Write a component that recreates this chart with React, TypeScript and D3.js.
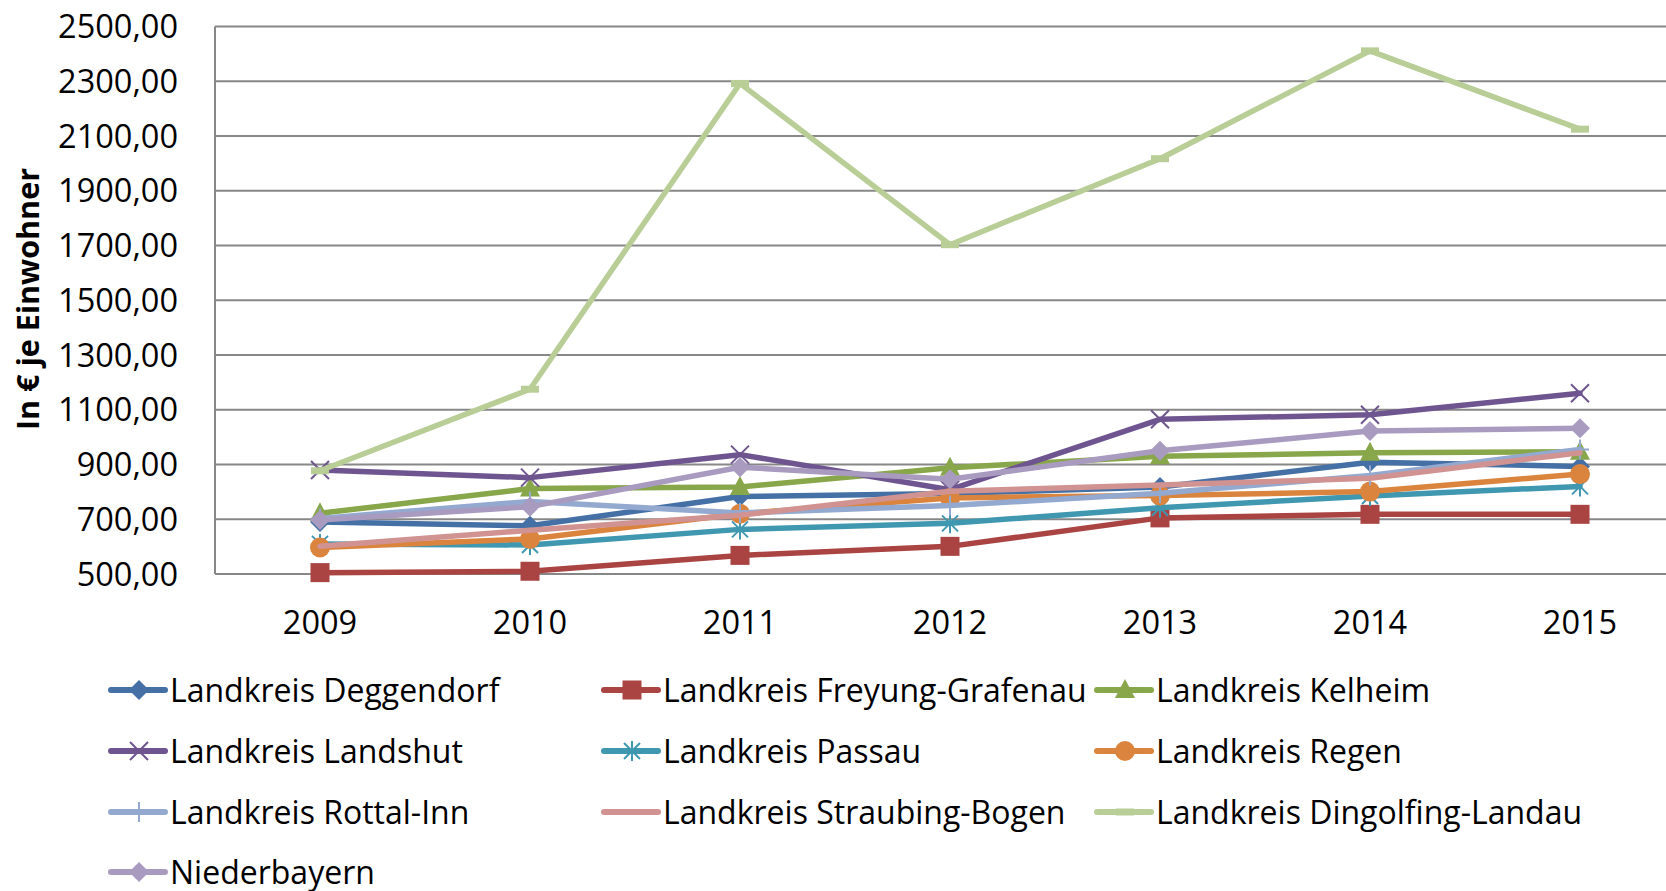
import React from "react";
import * as d3 from "d3";

const years = ["2009", "2010", "2011", "2012", "2013", "2014", "2015"];
const yTicks = [500, 700, 900, 1100, 1300, 1500, 1700, 1900, 2100, 2300, 2500];

const deggendorf = [690, 676, 783, 794, 818, 908, 893];
const freyung = [505, 510, 568, 601, 705, 718, 718];
const kelheim = [722, 812, 818, 888, 930, 943, 947];
const landshut = [880, 852, 936, 808, 1065, 1082, 1160];
const passau = [610, 606, 663, 685, 742, 785, 820];
const regen = [597, 628, 720, 778, 787, 801, 865];
const rottal = [703, 765, 723, 750, 795, 860, 955];
const straubing = [601, 660, 715, 802, 825, 850, 943];
const dingolfing = [877, 1175, 2292, 1703, 2017, 2411, 2125];
const niederbayern = [697, 746, 890, 846, 950, 1022, 1032];

const seriesNames = [
  "Landkreis Deggendorf",
  "Landkreis Freyung-Grafenau",
  "Landkreis Kelheim",
  "Landkreis Landshut",
  "Landkreis Passau",
  "Landkreis Regen",
  "Landkreis Rottal-Inn",
  "Landkreis Straubing-Bogen",
  "Landkreis Dingolfing-Landau",
  "Niederbayern",
];
const seriesValues = [deggendorf, freyung, kelheim, landshut, passau, regen, rottal, straubing, dingolfing, niederbayern];
const seriesColors = ["#4470A6", "#A94442", "#88A64A", "#6F5590", "#3F97B0", "#DB843D", "#93A9D0", "#D19392", "#B9CE96", "#A89BBF"];
const seriesMarkers = ["diamond", "square", "triangle", "x", "star", "circle", "plus", "none", "dash", "diamond"];

const W = 1666;
const H = 891;
const FONT = "'Open Sans', 'Noto Sans', sans-serif";

const locale = d3.formatLocale({ decimal: ",", thousands: "", grouping: [3], currency: ["", "€"] });
const fmt = locale.format(".2f");

function Marker({ type, x, y, color }: { type: string; x: number; y: number; color: string }) {
  const s = 10;
  switch (type) {
    case "diamond":
      return <path d={`M${x},${y - s}L${x + s},${y}L${x},${y + s}L${x - s},${y}Z`} fill={color} />;
    case "square":
      return <rect x={x - 9.5} y={y - 9.5} width={19} height={19} fill={color} />;
    case "triangle":
      return <path d={`M${x},${y - 11}L${x + 10},${y + 8}L${x - 10},${y + 8}Z`} fill={color} />;
    case "circle":
      return <circle cx={x} cy={y} r={10} fill={color} />;
    case "x":
      return (
        <path d={`M${x - 9},${y - 9}L${x + 9},${y + 9}M${x - 9},${y + 9}L${x + 9},${y - 9}`} stroke={color} strokeWidth={2} fill="none" />
      );
    case "star":
      return (
        <path
          d={`M${x - 8},${y - 8}L${x + 8},${y + 8}M${x - 8},${y + 8}L${x + 8},${y - 8}M${x},${y - 10}L${x},${y + 10}`}
          stroke={color}
          strokeWidth={2}
          fill="none"
        />
      );
    case "plus":
      return <path d={`M${x - 9},${y}L${x + 9},${y}M${x},${y - 10}L${x},${y + 10}`} stroke={color} strokeWidth={2} fill="none" />;
    case "dash":
      return <rect x={x - 9} y={y - 3.5} width={18} height={7} fill={color} />;
    default:
      return null;
  }
}

export default function App() {
  const x = d3.scaleBand<string>().domain(years).range([215, 215 + 7 * 210]).padding(0);
  const y = d3.scaleLinear().domain([500, 2500]).range([574, 26.5]);
  const cx = (yr: string) => (x(yr) as number) + x.bandwidth() / 2;
  const line = d3
    .line<number>()
    .x((_, i) => cx(years[i]))
    .y((v) => y(v));

  const legendCols = [111, 604, 1097];
  const legendRows = [690, 751, 812, 872];

  return (
    <svg width={W} height={H} style={{ position: "absolute", left: 0, top: 0, background: "#fff" }} fontFamily={FONT}>
      <rect x={0} y={0} width={W} height={H} fill="#fff" />
      {yTicks.map((t) => (
        <line key={t} x1={215} x2={W} y1={y(t)} y2={y(t)} stroke="#878787" strokeWidth={2} />
      ))}
      <line x1={215} x2={215} y1={y(2500)} y2={y(500)} stroke="#878787" strokeWidth={2} />
      {yTicks.map((t) => (
        <text key={"l" + t} x={178} y={y(t)} dy="0.36em" textAnchor="end" fontSize={32.5} fill="#000">
          {fmt(t)}
        </text>
      ))}
      {years.map((yr) => (
        <text key={yr} x={cx(yr)} y={622} dy="0.36em" textAnchor="middle" fontSize={32.5} fill="#000">
          {yr}
        </text>
      ))}
      <text
        transform={`translate(28,299) rotate(-90)`}
        textAnchor="middle"
        dy="0.36em"
        fontSize={30.5}
        fontWeight="bold"
        fill="#000"
      >
        In € je Einwohner
      </text>
      {seriesValues.map((vals, si) => (
        <g key={si}>
          <path d={line(vals) || ""} fill="none" stroke={seriesColors[si]} strokeWidth={5.5} strokeLinejoin="round" strokeLinecap="round" />
          {vals.map((v, i) => (
            <Marker key={i} type={seriesMarkers[si]} x={cx(years[i])} y={y(v)} color={seriesColors[si]} />
          ))}
        </g>
      ))}
      {seriesNames.map((name, si) => {
        const col = si % 3;
        const row = Math.floor(si / 3);
        const lx = legendCols[col];
        const ly = legendRows[row];
        return (
          <g key={"lg" + si}>
            <line x1={lx} x2={lx + 54} y1={ly} y2={ly} stroke={seriesColors[si]} strokeWidth={6} strokeLinecap="round" />
            <Marker type={seriesMarkers[si]} x={lx + 28} y={ly} color={seriesColors[si]} />
            <text x={lx + 59} y={ly} dy="0.36em" fontSize={32} fill="#000">
              {name}
            </text>
          </g>
        );
      })}
    </svg>
  );
}
